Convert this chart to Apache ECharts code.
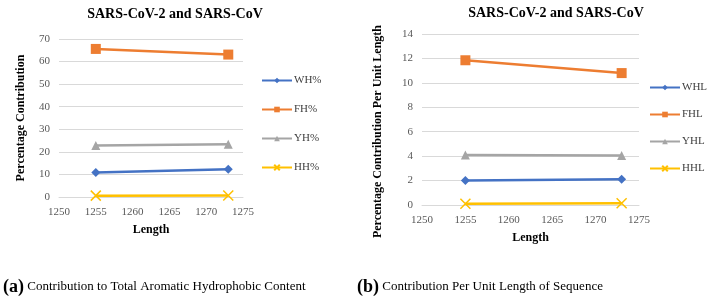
<!DOCTYPE html>
<html><head><meta charset="utf-8">
<script src="https://cdn.jsdelivr.net/npm/echarts@6/dist/echarts.min.js"></script>
<style>html,body{margin:0;padding:0;background:#fff}#c{width:708px;height:301px}</style>
</head><body><div id="c"></div>
<script>
// Data
const lengths = [1255, 1273];
const seriesNamesA = ['WH%', 'FH%', 'YH%', 'HH%'];
const WH = [10.9, 12.3];
const FH = [65.6, 63.1];
const YH = [22.8, 23.4];
const HH = [0.6, 0.7];
const seriesNamesB = ['WHL', 'FHL', 'YHL', 'HHL'];
const WHL = [2.0, 2.1];
const FHL = [11.85, 10.8];
const YHL = [4.1, 4.05];
const HHL = [0.1, 0.15];
const xTicks = [1250, 1255, 1260, 1265, 1270, 1275];

const colors = ['#4472C4', '#ED7D31', '#A5A5A5', '#FFC000'];
const symbols = ['diamond', 'rect', 'triangle', 'path://M0,0L10,10M10,0L0,10'];
const symSizes = [9, 10, 9, 10];
const serif = 'Liberation Serif';

function mk(name, vals, i, idx) {
  const isX = i === 3;
  return {
    name: name, type: 'line', xAxisIndex: idx, yAxisIndex: idx,
    data: lengths.map((l, k) => [l, vals[k]]),
    symbol: symbols[i], symbolSize: symSizes[i],
    lineStyle: { color: colors[i], width: 2.5 },
    itemStyle: isX ? { color: 'none', borderColor: colors[i], borderWidth: 1.5 } : { color: colors[i] },
    animation: false
  };
}
const valsA = [WH, FH, YH, HH];
const valsB = [WHL, FHL, YHL, HHL];

function xAx(idx) {
  return {
    type: 'value', gridIndex: idx, min: xTicks[0], max: xTicks[xTicks.length - 1], interval: 5,
    name: 'Length', nameLocation: 'middle', nameGap: 27,
    nameTextStyle: { fontFamily: serif, fontWeight: 'bold', fontSize: 12, color: '#000' },
    axisLine: { show: true, lineStyle: { color: '#D9D9D9', width: 1 } },
    axisTick: { show: false },
    axisLabel: { fontFamily: serif, fontSize: 11, color: '#595959', margin: 10, formatter: v => String(v) },
    splitLine: { show: false }
  };
}
function yAx(idx, max, interval, name, gap, pad) {
  return {
    type: 'value', gridIndex: idx, min: 0, max: max, interval: interval,
    name: name, nameLocation: 'middle', nameGap: gap,
    nameTextStyle: { fontFamily: serif, fontWeight: 'bold', fontSize: 12, color: '#000', padding: pad },
    axisLine: { show: false }, axisTick: { show: false },
    axisLabel: { fontFamily: serif, fontSize: 11, color: '#595959', margin: 9 },
    splitLine: { show: true, lineStyle: { color: '#D9D9D9', width: 1 } }
  };
}
function legend(names, left, top, gap) {
  return {
    orient: 'vertical', left: left, top: top, itemGap: gap, padding: 0,
    itemWidth: 30, itemHeight: 7, data: names,
    textStyle: { fontFamily: serif, fontSize: 11, color: '#404040', padding: [0, 0, 0, -3] }
  };
}

const chart = echarts.init(document.getElementById('c'), null, { renderer: 'canvas' });
chart.setOption({
  animation: false,
  backgroundColor: '#fff',
  title: [
    { text: 'SARS-CoV-2 and SARS-CoV', left: 170, top: 2, textAlign: 'center',
      textStyle: { fontFamily: serif, fontWeight: 'bold', fontSize: 14, color: '#000' } },
    { text: 'SARS-CoV-2 and SARS-CoV', left: 551, top: 1, textAlign: 'center',
      textStyle: { fontFamily: serif, fontWeight: 'bold', fontSize: 14, color: '#000' } }
  ],
  grid: [
    { left: 59, top: 39, width: 184, height: 158 },
    { left: 422, top: 34, width: 217, height: 171 }
  ],
  xAxis: [xAx(0), xAx(1)],
  yAxis: [yAx(0, 70, 10, 'Percentage Contribution', 32, [0, 0, 0, 0]),
          yAx(1, 14, 2, 'Percentage Contribution Per Unit Length', 38, [0, 24, 0, 0])],
  legend: [
    legend(seriesNamesA, 261, 75, 18),
    legend(seriesNamesB, 649, 82, 16)
  ],
  series: [
    ...seriesNamesA.map((n, i) => mk(n, valsA[i], i, 0)),
    ...seriesNamesB.map((n, i) => mk(n, valsB[i], i, 1))
  ],
  graphic: [
    { type: 'text', left: 3, top: 278, style: { rich: { b: { fontFamily: serif, fontWeight: 'bold', fontSize: 18, fill: '#000' }, n: { fontFamily: serif, fontSize: 13, fill: '#000' } }, text: '{b|(a)} {n|Contribution to Total Aromatic Hydrophobic Content}' } },
    { type: 'text', left: 357, top: 278, style: { rich: { b: { fontFamily: serif, fontWeight: 'bold', fontSize: 18, fill: '#000' }, n: { fontFamily: serif, fontSize: 13, fill: '#000' } }, text: '{b|(b)} {n|Contribution Per Unit Length of Sequence}' } }
  ]
});
</script></body></html>
